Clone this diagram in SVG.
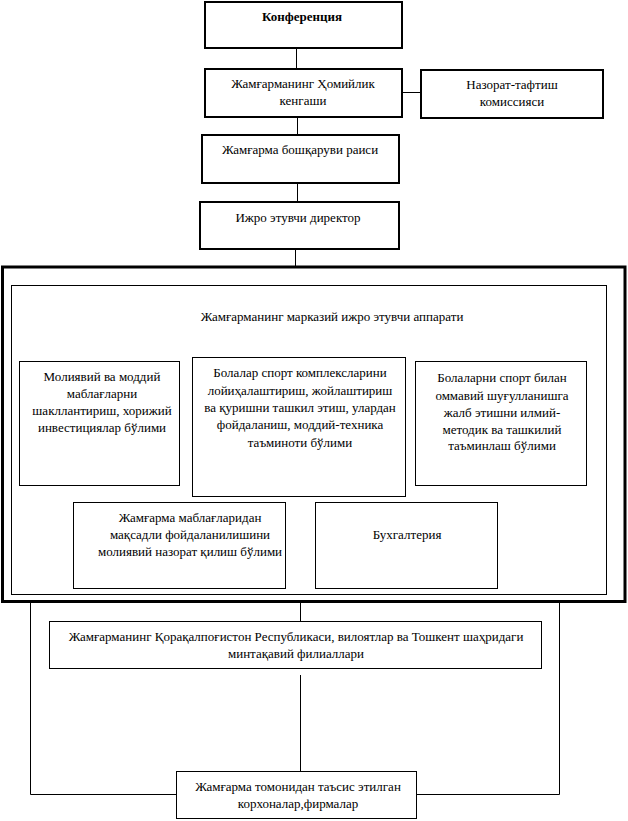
<svg xmlns="http://www.w3.org/2000/svg" width="628" height="821" viewBox="0 0 628 821">
<style>
.b{fill:#fff;stroke:#000;stroke-width:2}
.n{fill:#fff;stroke:#000;stroke-width:1}
.c{fill:none;stroke:#000;stroke-width:1}
.bd{font-weight:bold}
</style>
<rect width="628" height="821" fill="#fff"/>
<g id="connectors">
<line class="c" x1="296.5" y1="48" x2="296.5" y2="68"/>
<line class="c" x1="402" y1="92.5" x2="421" y2="92.5"/>
<line class="c" x1="297.5" y1="117" x2="297.5" y2="135"/>
<line class="c" x1="297.5" y1="183" x2="297.5" y2="202"/>
<line class="c" x1="295.5" y1="249" x2="295.5" y2="266"/>
<polyline class="c" points="104.5,361 104.5,339.5 501.5,339.5 501.5,361"/>
<line class="c" x1="188.5" y1="339.5" x2="188.5" y2="502"/>
<line class="c" x1="290.5" y1="339.5" x2="290.5" y2="357"/>
<line class="c" x1="409.5" y1="339.5" x2="409.5" y2="502"/>
<line class="c" x1="300.5" y1="603" x2="300.5" y2="622"/>
<line class="c" x1="300.5" y1="675" x2="300.5" y2="772"/>
<polyline class="c" points="30.5,603 30.5,794.5 176,794.5"/>
<polyline class="c" points="559.5,603 559.5,794.5 417,794.5"/>
</g>
<g font-family="Liberation Serif, DejaVu Serif, serif" font-size="13" text-anchor="middle" fill="#000">
<g id="n-konf"><rect class="b" x="205" y="2" width="197" height="46"/><text class="bd" x="302" y="21">Конференция</text></g>
<g id="n-homiy"><rect class="b" x="205" y="69" width="197" height="48"/><text x="303" y="88">Жамғарманинг Ҳомийлик</text><text x="303" y="105">кенгаши</text></g>
<g id="n-nazorat"><rect class="b" x="421" y="70" width="182" height="48"/><text x="512" y="89">Назорат-тафтиш</text><text x="512" y="106">комиссияси</text></g>
<g id="n-raisi"><rect class="b" x="202" y="135" width="197" height="48"/><text x="300" y="154">Жамғарма бошқаруви раиси</text></g>
<g id="n-direktor"><rect class="b" x="200" y="202" width="199" height="47"/><text x="298" y="222">Ижро этувчи  директор</text></g>
<g id="n-apparat">
<rect fill="none" stroke="#000" stroke-width="3" x="2.5" y="267" width="622.5" height="334.5"/>
<rect class="n" x="11.5" y="285.5" width="595" height="309"/>
<text x="332" y="321">Жамғарманинг марказий ижро этувчи аппарати</text>
</g>
<g id="n-moliyaviy"><rect class="n" x="19.5" y="361.5" width="160" height="124"/><text x="102" y="381">Молиявий ва моддий</text><text x="102" y="398">маблағларни</text><text x="102" y="415">шакллантириш, хорижий</text><text x="102" y="432">инвестициялар бўлими</text></g>
<g id="n-sport-kompleks"><rect class="n" x="192.5" y="357.5" width="213" height="139"/><text x="300" y="377">Болалар спорт комплексларини</text><text x="300" y="395">лойиҳалаштириш, жойлаштириш</text><text x="300" y="412">ва қуришни ташкил этиш, улардан</text><text x="300" y="429">фойдаланиш, моддий-техника</text><text x="300" y="447">таъминоти бўлими</text></g>
<g id="n-sport-ommaviy"><rect class="n" x="415.5" y="361.5" width="171" height="124"/><text x="502" y="382">Болаларни спорт билан</text><text x="502" y="400">оммавий шуғулланишга</text><text x="502" y="417">жалб этишни илмий-</text><text x="502" y="434">методик ва ташкилий</text><text x="502" y="450">таъминлаш  бўлими</text></g>
<g id="n-nazorat-bolim"><rect class="n" x="73.5" y="502.5" width="212" height="86"/><text x="190" y="522">Жамғарма маблағларидан</text><text x="190" y="539">мақсадли фойдаланилишини</text><text x="190" y="556">молиявий назорат қилиш бўлими</text></g>
<g id="n-buxgalteriya"><rect class="n" x="315.5" y="502.5" width="182" height="86"/><text x="407" y="539">Бухгалтерия</text></g>
<g id="n-filiallar"><rect class="n" x="49.5" y="621.5" width="492" height="47"/><text x="296" y="641">Жамғарманинг Қорақалпоғистон Республикаси, вилоятлар ва Тошкент шаҳридаги</text><text x="296" y="658">минтақавий филиаллари</text></g>
<g id="n-korxonalar"><rect class="n" x="176.5" y="771.5" width="240" height="47"/><text x="298" y="791">Жамғарма томонидан таъсис этилган</text><text x="298" y="808">корхоналар,фирмалар</text></g>
</g>
</svg>
